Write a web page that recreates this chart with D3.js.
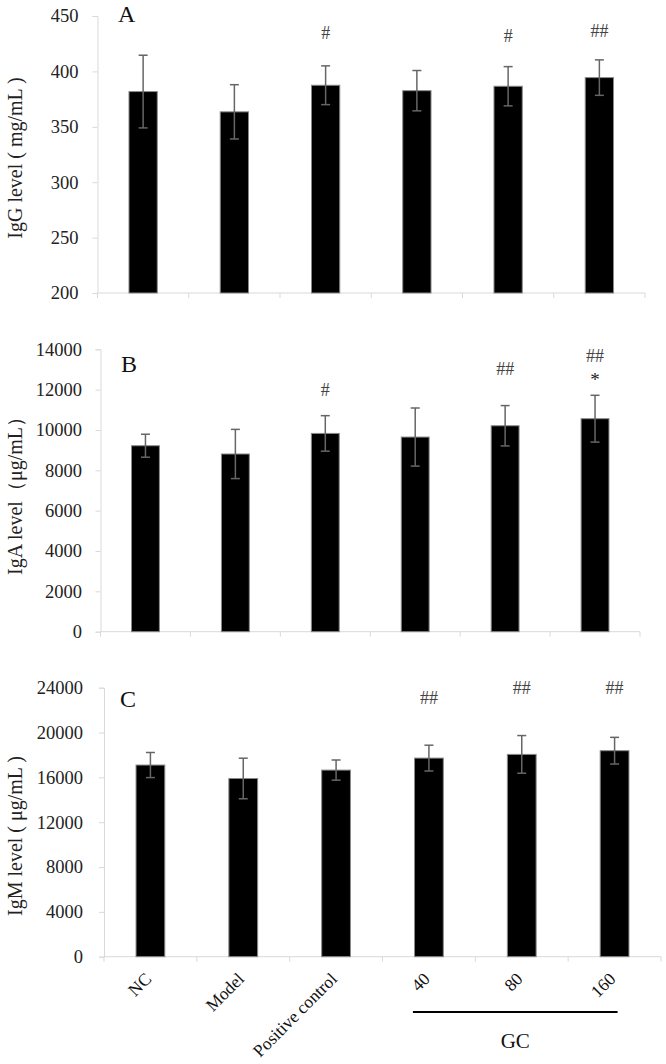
<!DOCTYPE html>
<html><head><meta charset="utf-8">
<script src="https://cdn.jsdelivr.net/npm/d3@7"></script>
<style>
body{margin:0;background:#fff}
svg{display:block}
text{font-family:"Liberation Serif","Times New Roman",serif}
</style>
</head><body>
<script>
// ---------- data ----------
const categories = ["NC", "Model", "Positive control", "40", "80", "160"];

const igG   = [381.8, 363.5, 387.5, 382.6, 386.6, 394.4];
const igGsd = [32.8, 24.5, 17.5, 18.2, 17.7, 16.0];
const igGticks = [200, 250, 300, 350, 400, 450];
const igGmarks  = [[], [], ["#"], [], ["#"], ["##"]];
const igGmarkY  = [[], [], [434.7], [], [432], [436.5]];

const igA   = [9220, 8810, 9830, 9650, 10210, 10560];
const igAsd = [570, 1220, 880, 1440, 1000, 1160];
const igAticks = [0, 2000, 4000, 6000, 8000, 10000, 12000, 14000];
const igAmarks  = [[], [], ["#"], [], ["##"], ["##", "*"]];
const igAmarkY  = [[], [], [11980], [], [13007], [13667, 12640]];

const igM   = [17100, 15900, 16650, 17720, 18050, 18380];
const igMsd = [1120, 1810, 900, 1150, 1680, 1190];
const igMticks = [0, 4000, 8000, 12000, 16000, 20000, 24000];
const igMmarks  = [[], [], [], ["##"], ["##"], ["##"]];
const igMmarkY  = [[], [], [], [23054], [23946], [23946]];

const panelLetters = ["A", "B", "C"];
const yTitles = ["IgG level ( mg/mL )", "IgA level（μg/mL）", "IgM level ( μg/mL )"];
const groupLabel = "GC";

// ---------- layout ----------
const W = 666, H = 1064;
const svg = d3.select("body").append("svg").attr("width", W).attr("height", H);

const panels = [
  {vals: igG, sd: igGsd, ticks: igGticks, marks: igGmarks, markY: igGmarkY,
   x0: 97.5, x1: 645, yTop: 16, yBot: 293, pad: 14, letter: [118, 22], ytl: [22, 158]},
  {vals: igA, sd: igAsd, ticks: igAticks, marks: igAmarks, markY: igAmarkY,
   x0: 100.5, x1: 640, yTop: 349.3, yBot: 631.7, pad: 13.5, letter: [121, 372], ytl: [22, 491]},
  {vals: igM, sd: igMsd, ticks: igMticks, marks: igMmarks, markY: igMmarkY,
   x0: 104, x1: 661, yTop: 687.7, yBot: 956.7, pad: 16, letter: [120, 707], ytl: [22, 836]}
];

const axisColor = "#d9d9d9";
const errColor = "#666";

panels.forEach((p, pi) => {
  const g = svg.append("g");
  const x = d3.scaleBand().domain(categories).range([p.x0, p.x1])
    .paddingInner(0.69).paddingOuter(0.345);
  const y = d3.scaleLinear().domain([p.ticks[0], p.ticks[p.ticks.length - 1]])
    .range([p.yBot, p.yTop]);
  const step = x.step();

  // y axis
  const ya = g.append("g").attr("transform", `translate(${p.x0},0)`)
    .call(d3.axisLeft(y).tickValues(p.ticks).tickSize(5).tickPadding(p.pad).tickFormat(d3.format("d")));
  ya.attr("font-size", null).attr("font-family", null);
  ya.select(".domain").attr("stroke", axisColor);
  ya.selectAll(".tick line").attr("stroke", axisColor);
  ya.selectAll(".tick text").style("font-size", "18.5px").attr("fill", "#222");

  // x axis line + boundary ticks
  g.append("line").attr("x1", p.x0).attr("x2", p.x1).attr("y1", p.yBot).attr("y2", p.yBot)
    .attr("stroke", axisColor).attr("stroke-width", 1);
  d3.range(categories.length + 1).forEach(i => {
    const xx = p.x0 + i * step;
    g.append("line").attr("x1", xx).attr("x2", xx).attr("y1", p.yBot).attr("y2", p.yBot + 5)
      .attr("stroke", axisColor);
  });

  // bars
  g.selectAll("rect.bar").data(p.vals).join("rect").attr("class", "bar")
    .attr("x", (d, i) => x(categories[i]))
    .attr("width", x.bandwidth())
    .attr("y", d => y(d))
    .attr("height", d => p.yBot - y(d))
    .attr("fill", "#000").attr("stroke", "#8a8a8a").attr("stroke-width", 1);

  // error bars
  p.vals.forEach((v, i) => {
    const cx = x(categories[i]) + x.bandwidth() / 2;
    const t = y(v + p.sd[i]), b = y(v - p.sd[i]);
    g.append("line").attr("x1", cx).attr("x2", cx).attr("y1", t).attr("y2", b)
      .attr("stroke", errColor).attr("stroke-width", 1.5);
    [t, b].forEach(yy => g.append("line").attr("x1", cx - 4.5).attr("x2", cx + 4.5)
      .attr("y1", yy).attr("y2", yy).attr("stroke", errColor).attr("stroke-width", 1.5));
  });

  // significance marks
  p.marks.forEach((arr, i) => {
    const cx = x(categories[i]) + x.bandwidth() / 2;
    arr.forEach((m, k) => {
      const cy = y(p.markY[i][k]);
      const off = m === "*" ? 9 : 6;
      g.append("text").attr("x", cx).attr("y", cy + off).attr("text-anchor", "middle")
        .attr("font-size", m === "*" ? 19 : 18).attr("fill", m === "*" ? "#222" : "#444")
        .text(m);
    });
  });

  // panel letter
  g.append("text").attr("x", p.letter[0]).attr("y", p.letter[1])
    .attr("font-size", 24).attr("fill", "#111").text(panelLetters[pi]);

  // y title
  g.append("text").attr("transform", `translate(${p.ytl[0]},${p.ytl[1]}) rotate(-90)`)
    .attr("text-anchor", "middle").attr("font-size", 20).attr("fill", "#222")
    .text(yTitles[pi]);

  // x labels on last panel
  if (pi === panels.length - 1) {
    categories.forEach(c => {
      const cx = x(c) + x.bandwidth() / 2 + 2;
      g.append("text").attr("transform", `translate(${cx},980) rotate(-45)`)
        .attr("text-anchor", "end").attr("font-size", 17.5).attr("fill", "#111").text(c);
    });
    const lx1 = x("40") + x.bandwidth() / 2 - 16;
    const lx2 = x("160") + x.bandwidth() / 2 + 3;
    g.append("line").attr("x1", lx1).attr("x2", lx2).attr("y1", 1012).attr("y2", 1012)
      .attr("stroke", "#000").attr("stroke-width", 2.2);
    g.append("text").attr("x", (lx1 + lx2) / 2).attr("y", 1048).attr("text-anchor", "middle")
      .attr("font-size", 21).attr("fill", "#111").text(groupLabel);
  }
});
</script>
</body></html>
